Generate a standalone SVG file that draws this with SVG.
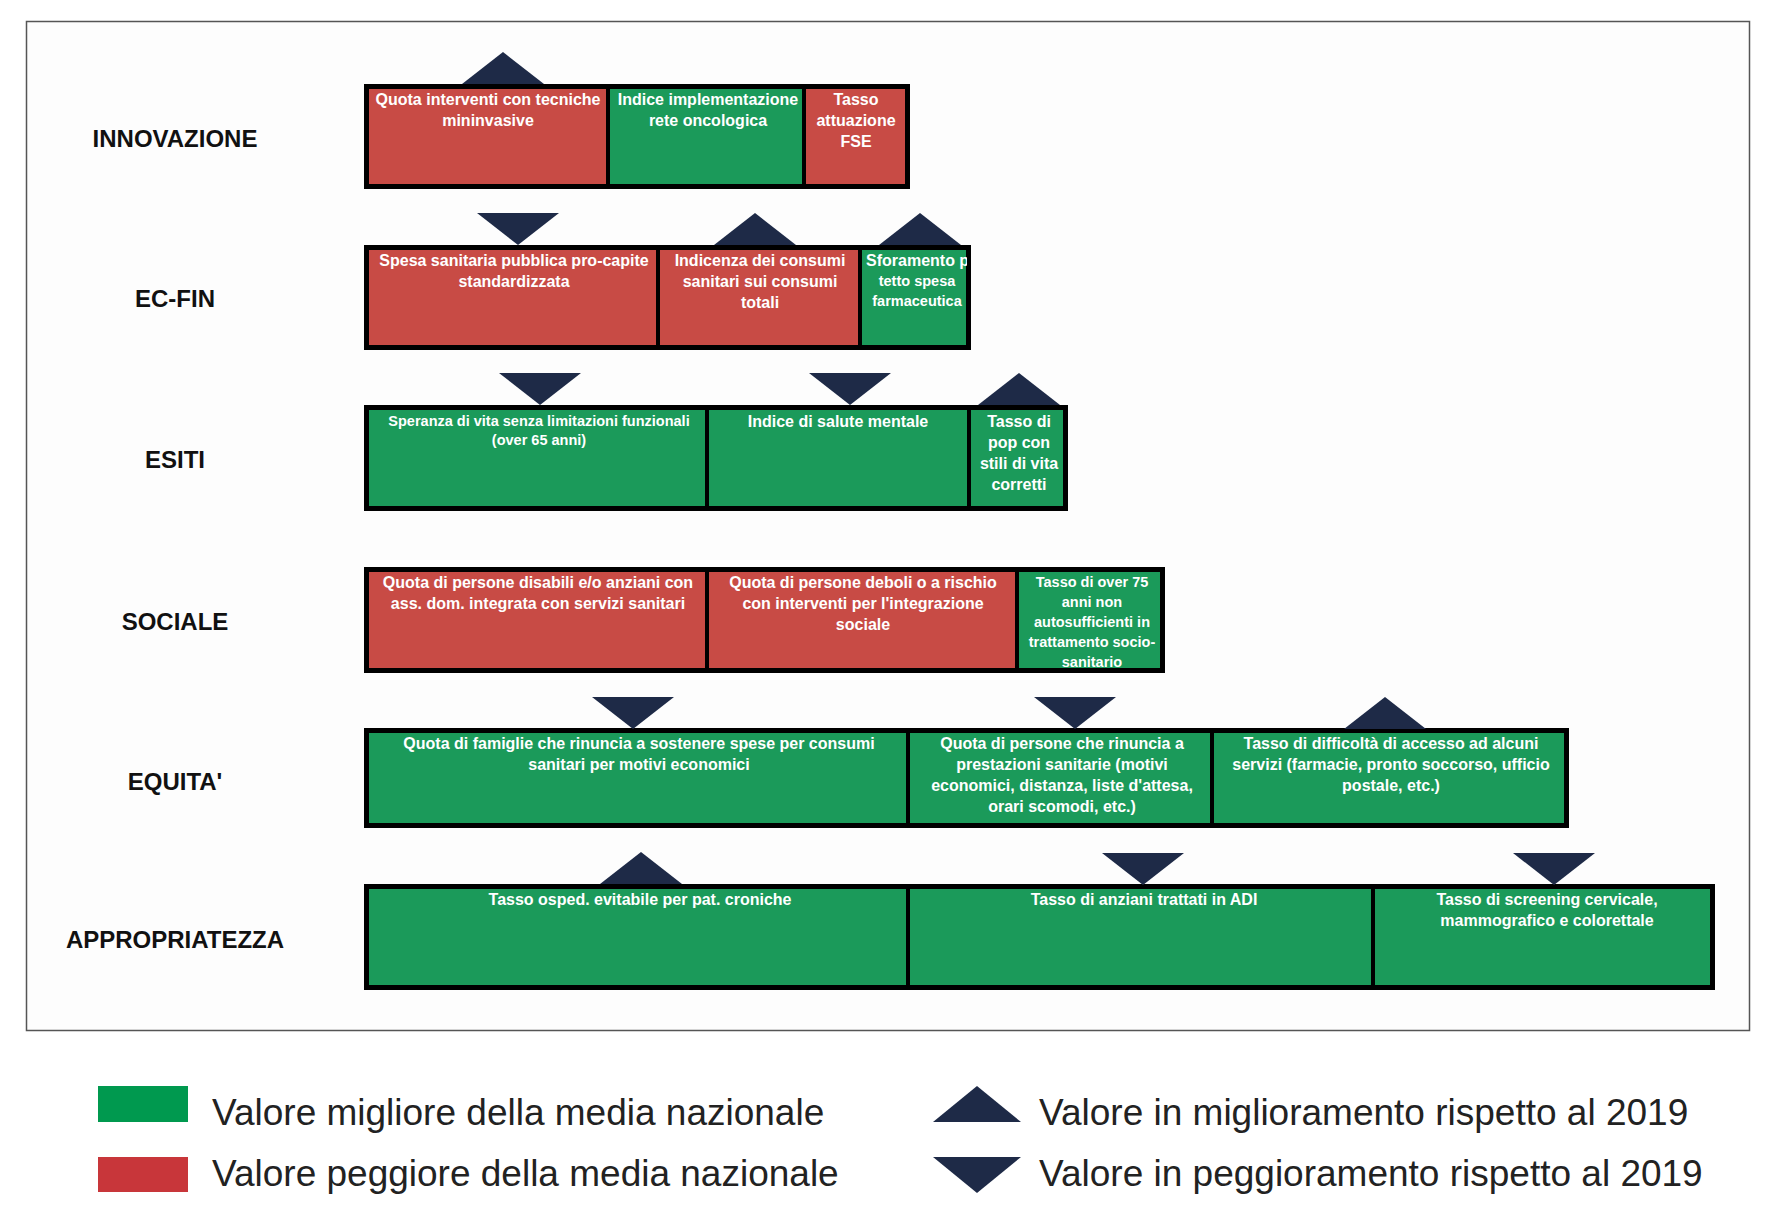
<svg xmlns="http://www.w3.org/2000/svg" width="1780" height="1212" viewBox="0 0 1780 1212">
<style>
.lbl{font-family:"Liberation Sans",Arial,sans-serif;font-weight:bold;font-size:24px;fill:#111;text-anchor:middle}
.t{font-family:"Liberation Sans Narrow","Liberation Sans",sans-serif;font-weight:bold;font-size:16px;fill:#fff;text-anchor:middle}
.r{fill:#C84B45}.g{fill:#1B9A5A}
.tri{fill:#1E2A47}
.leg{font-family:"Liberation Sans Narrow","Liberation Sans",sans-serif;font-size:37px;fill:#222}
</style>
<defs><clipPath id="cs"><rect x="864" y="249" width="103" height="96"/></clipPath></defs>
<rect width="1780" height="1212" fill="#fff"/>
<rect x="26.5" y="21.5" width="1723" height="1009" fill="#fdfdfd" stroke="#555" stroke-width="1.5"/>
<g id="labels">
<text class="lbl" x="175" y="147">INNOVAZIONE</text>
<text class="lbl" x="175" y="307">EC-FIN</text>
<text class="lbl" x="175" y="468">ESITI</text>
<text class="lbl" x="175" y="630">SOCIALE</text>
<text class="lbl" x="175" y="790">EQUITA'</text>
<text class="lbl" x="175" y="948">APPROPRIATEZZA</text>
</g>
<g id="row-innovazione">
<rect x="364" y="84" width="546" height="105" fill="#000"/>
<rect class="r" x="369" y="89" width="237" height="95"/>
<rect class="g" x="610" y="89" width="192" height="95"/>
<rect class="r" x="806" y="89" width="99" height="95"/>
<text class="t" x="488" y="105">Quota interventi con tecniche</text><text class="t" x="488" y="126">mininvasive</text>
<text class="t" x="708" y="105">Indice implementazione</text><text class="t" x="708" y="126">rete oncologica</text>
<text class="t" x="856" y="105">Tasso</text><text class="t" x="856" y="126">attuazione</text><text class="t" x="856" y="147">FSE</text>
<polygon class="tri" points="462,84 544,84 503,52"/>
</g>
<g id="row-ecfin">
<rect x="364" y="245" width="607" height="105" fill="#000"/>
<rect class="r" x="369" y="250" width="287" height="95"/>
<rect class="r" x="660" y="250" width="198" height="95"/>
<rect class="g" x="862" y="250" width="104" height="95"/>
<text class="t" x="514" y="266">Spesa sanitaria pubblica pro-capite</text><text class="t" x="514" y="287">standardizzata</text>
<text class="t" x="760" y="266">Indicenza dei consumi</text><text class="t" x="760" y="287">sanitari sui consumi</text><text class="t" x="760" y="308">totali</text>
<g clip-path="url(#cs)" style="font-size:14.5px"><text class="t" x="918" y="266" style="text-anchor:start" dx="-52">Sforamento per</text><text class="t" x="917" y="286" style="font-size:14.5px">tetto spesa</text><text class="t" x="917" y="306" style="font-size:14.5px">farmaceutica</text></g>
<polygon class="tri" points="477,213 559,213 518,245"/>
<polygon class="tri" points="714,245 796,245 755,213"/>
<polygon class="tri" points="879,245 961,245 920,213"/>
</g>
<g id="row-esiti">
<rect x="364" y="405" width="704" height="106" fill="#000"/>
<rect class="g" x="369" y="410" width="336" height="96"/>
<rect class="g" x="709" y="410" width="258" height="96"/>
<rect class="g" x="971" y="410" width="92" height="96"/>
<text class="t" x="539" y="426" style="font-size:14.5px">Speranza di vita senza limitazioni funzionali</text><text class="t" x="539" y="445" style="font-size:14.5px">(over 65 anni)</text>
<text class="t" x="838" y="427">Indice di salute mentale</text>
<text class="t" x="1019" y="427">Tasso di</text><text class="t" x="1019" y="448">pop con</text><text class="t" x="1019" y="469">stili di vita</text><text class="t" x="1019" y="490">corretti</text>
<polygon class="tri" points="499,373 581,373 540,405"/>
<polygon class="tri" points="809,373 891,373 850,405"/>
<polygon class="tri" points="978,405 1060,405 1019,373"/>
</g>
<g id="row-sociale">
<rect x="364" y="567" width="801" height="106" fill="#000"/>
<rect class="r" x="369" y="572" width="336" height="96"/>
<rect class="r" x="709" y="572" width="306" height="96"/>
<rect class="g" x="1019" y="572" width="141" height="96"/>
<text class="t" x="538" y="588">Quota di persone disabili e/o anziani con</text><text class="t" x="538" y="609">ass. dom. integrata con servizi sanitari</text>
<text class="t" x="863" y="588">Quota di persone deboli o a rischio</text><text class="t" x="863" y="609">con interventi per l'integrazione</text><text class="t" x="863" y="630">sociale</text>
<g style="font-size:14.5px"><text class="t" x="1092" y="587" style="font-size:14.5px">Tasso di over 75</text><text class="t" x="1092" y="607" style="font-size:14.5px">anni non</text><text class="t" x="1092" y="627" style="font-size:14.5px">autosufficienti in</text><text class="t" x="1092" y="647" style="font-size:14.5px">trattamento socio-</text><text class="t" x="1092" y="667" style="font-size:14.5px">sanitario</text></g>
</g>
<g id="row-equita">
<rect x="364" y="728" width="1205" height="100" fill="#000"/>
<rect class="g" x="369" y="733" width="537" height="90"/>
<rect class="g" x="910" y="733" width="300" height="90"/>
<rect class="g" x="1214" y="733" width="350" height="90"/>
<text class="t" x="639" y="749">Quota di famiglie che rinuncia a sostenere spese per consumi</text><text class="t" x="639" y="770">sanitari per motivi economici</text>
<text class="t" x="1062" y="749">Quota di persone che rinuncia a</text><text class="t" x="1062" y="770">prestazioni sanitarie (motivi</text><text class="t" x="1062" y="791">economici, distanza, liste d'attesa,</text><text class="t" x="1062" y="812">orari scomodi, etc.)</text>
<text class="t" x="1391" y="749">Tasso di difficoltà di accesso ad alcuni</text><text class="t" x="1391" y="770">servizi (farmacie, pronto soccorso, ufficio</text><text class="t" x="1391" y="791">postale, etc.)</text>
<polygon class="tri" points="592,697 674,697 633,729"/>
<polygon class="tri" points="1034,697 1116,697 1075,729"/>
<polygon class="tri" points="1344,729 1426,729 1385,697"/>
</g>
<g id="row-appropriatezza">
<rect x="364" y="884" width="1351" height="106" fill="#000"/>
<rect class="g" x="369" y="889" width="537" height="96"/>
<rect class="g" x="910" y="889" width="461" height="96"/>
<rect class="g" x="1375" y="889" width="335" height="96"/>
<text class="t" x="640" y="905">Tasso osped. evitabile per pat. croniche</text>
<text class="t" x="1144" y="905">Tasso di anziani trattati in ADI</text>
<text class="t" x="1547" y="905">Tasso di screening cervicale,</text><text class="t" x="1547" y="926">mammografico e colorettale</text>
<polygon class="tri" points="600,884 682,884 641,852"/>
<polygon class="tri" points="1102,853 1184,853 1143,885"/>
<polygon class="tri" points="1513,853 1595,853 1554,885"/>
</g>
<g id="legend">
<rect x="98" y="1086" width="90" height="36" fill="#00994F"/>
<rect x="98" y="1157" width="90" height="35" fill="#C8363A"/>
<text class="leg" x="212" y="1125">Valore migliore della media nazionale</text>
<text class="leg" x="212" y="1186">Valore peggiore della media nazionale</text>
<polygon class="tri" points="933,1122 1021,1122 977,1086"/>
<polygon class="tri" points="933,1157 1021,1157 977,1193"/>
<text class="leg" x="1039" y="1125">Valore in miglioramento rispetto al 2019</text>
<text class="leg" x="1039" y="1186">Valore in peggioramento rispetto al 2019</text>
</g>
</svg>
